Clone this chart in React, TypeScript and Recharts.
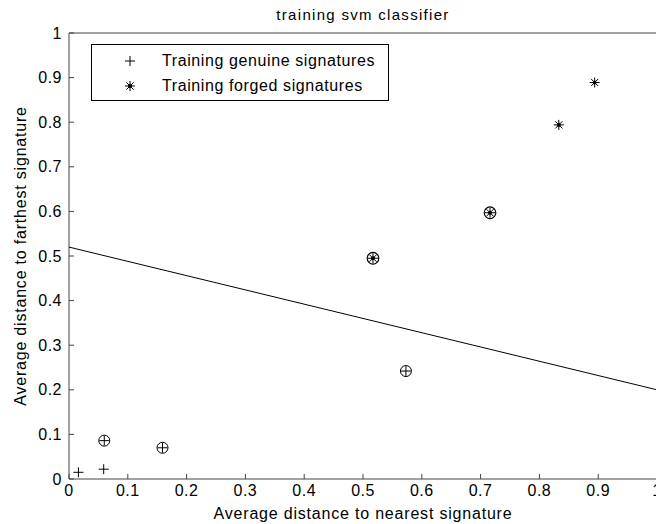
import React from "react";
import { ScatterChart, Scatter, XAxis, YAxis, Label } from "recharts";

const xTicks = [0, 0.1, 0.2, 0.3, 0.4, 0.5, 0.6, 0.7, 0.8, 0.9, 1];
const yTicks = [0, 0.1, 0.2, 0.3, 0.4, 0.5, 0.6, 0.7, 0.8, 0.9, 1];

// training points; *SV = support vectors (circled)
const genuine = [
  { x: 0.016, y: 0.015 },
  { x: 0.059, y: 0.022 },
];
const genuineSV = [
  { x: 0.06, y: 0.086 },
  { x: 0.159, y: 0.07 },
  { x: 0.573, y: 0.242 },
];
const forged = [
  { x: 0.833, y: 0.794 },
  { x: 0.894, y: 0.889 },
];
const forgedSV = [
  { x: 0.517, y: 0.495 },
  { x: 0.716, y: 0.597 },
];
const boundary = [
  { x: 0, y: 0.52 },
  { x: 1, y: 0.2 },
];

const FONT = "'Liberation Sans', Arial, sans-serif";
const AXIS = "#444";

function Plus({ cx, cy, r = 5 }: { cx: number; cy: number; r?: number }) {
  return (
    <g stroke="#000" strokeWidth={1}>
      <line x1={cx - r} y1={cy} x2={cx + r} y2={cy} />
      <line x1={cx} y1={cy - r} x2={cx} y2={cy + r} />
    </g>
  );
}

function Star({ cx, cy, r = 5 }: { cx: number; cy: number; r?: number }) {
  const d = r * 0.72;
  return (
    <g stroke="#000" strokeWidth={1}>
      <line x1={cx - r} y1={cy} x2={cx + r} y2={cy} />
      <line x1={cx} y1={cy - r} x2={cx} y2={cy + r} />
      <line x1={cx - d} y1={cy - d} x2={cx + d} y2={cy + d} />
      <line x1={cx - d} y1={cy + d} x2={cx + d} y2={cy - d} />
      <circle cx={cx} cy={cy} r={1.5} fill="#000" />
    </g>
  );
}

const plusShape = (p: any) => <Plus cx={p.cx} cy={p.cy} />;
const starShape = (p: any) => <Star cx={p.cx} cy={p.cy} />;
const circledPlus = (p: any) => (
  <g>
    <circle cx={p.cx} cy={p.cy} r={5.5} fill="none" stroke="#000" strokeWidth={1} />
    <Plus cx={p.cx} cy={p.cy} r={5} />
  </g>
);
const circledStar = (p: any) => (
  <g>
    <circle cx={p.cx} cy={p.cy} r={5.8} fill="none" stroke="#000" strokeWidth={1.2} />
    <Star cx={p.cx} cy={p.cy} r={5} />
  </g>
);

const tickStyle = { fontSize: 16, fill: "#000", fontFamily: FONT, letterSpacing: 0.5 };

export default function App() {
  return (
    <div
      style={{
        position: "absolute",
        left: 0,
        top: 0,
        width: 656,
        height: 524,
        overflow: "hidden",
        background: "#fff",
        fontFamily: FONT,
      }}
    >
      <ScatterChart width={660} height={524} margin={{ top: 0, right: 0, bottom: 0, left: 0 }}>
        <XAxis
          xAxisId="b"
          dataKey="x"
          type="number"
          domain={[0, 1]}
          ticks={xTicks}
          tickFormatter={(v) => String(v)}
          height={45}
          tickSize={-5}
          tickMargin={11}
          stroke={AXIS}
          tick={tickStyle}
          interval={0}
        >
          <Label
            value="Average distance to nearest signature"
            position="insideBottom"
            offset={5}
            style={{ fontSize: 16, fill: "#000", fontFamily: FONT, letterSpacing: 0.8 }}
          />
        </XAxis>
        <XAxis
          xAxisId="t"
          orientation="top"
          type="number"
          domain={[0, 1]}
          ticks={xTicks}
          height={33}
          tickSize={-5}
          tick={false}
          stroke={AXIS}
        >
          <Label
            content={() => (
              <text
                x={363}
                y={20}
                textAnchor="middle"
                style={{ fontSize: 15, fill: "#000", fontFamily: FONT, letterSpacing: 1.3 }}
              >
                training svm classifier
              </text>
            )}
          />
        </XAxis>
        <YAxis
          yAxisId="l"
          dataKey="y"
          type="number"
          domain={[0, 1]}
          ticks={yTicks}
          tickFormatter={(v) => String(v)}
          width={69}
          tickSize={-5}
          tickMargin={12}
          stroke={AXIS}
          tick={tickStyle}
          interval={0}
        >
          <Label
            content={() => (
              <text
                x={20}
                y={256}
                textAnchor="middle"
                dominantBaseline="central"
                transform="rotate(-90 20 256)"
                style={{ fontSize: 16, fill: "#000", fontFamily: FONT, letterSpacing: 0.8 }}
              >
                Average distance to farthest signature
              </text>
            )}
          />
        </YAxis>
        <YAxis
          yAxisId="r"
          orientation="right"
          type="number"
          domain={[0, 1]}
          ticks={yTicks}
          width={3}
          tickSize={-5}
          tick={false}
          stroke={AXIS}
        />
        <Scatter
          xAxisId="b"
          yAxisId="l"
          data={boundary}
          line={{ stroke: "#000", strokeWidth: 1 }}
          shape={() => <g />}
          isAnimationActive={false}
        />
        <Scatter xAxisId="b" yAxisId="l" data={genuine} shape={plusShape} isAnimationActive={false} />
        <Scatter xAxisId="b" yAxisId="l" data={genuineSV} shape={circledPlus} isAnimationActive={false} />
        <Scatter xAxisId="b" yAxisId="l" data={forged} shape={starShape} isAnimationActive={false} />
        <Scatter xAxisId="b" yAxisId="l" data={forgedSV} shape={circledStar} isAnimationActive={false} />
      </ScatterChart>

      <div
        style={{
          position: "absolute",
          left: 91,
          top: 44,
          width: 298,
          height: 57,
          border: "1px solid #000",
          background: "#fff",
          boxSizing: "border-box",
        }}
      >
        {[
          { label: "Training genuine signatures", Mark: Plus, cy: 16 },
          { label: "Training forged signatures", Mark: Star, cy: 41 },
        ].map(({ label, Mark, cy }) => (
          <div key={label}>
            <svg
              width={20}
              height={20}
              style={{ position: "absolute", left: 28, top: cy - 10 }}
            >
              <Mark cx={10} cy={10} r={5} />
            </svg>
            <span
              style={{
                position: "absolute",
                left: 70,
                top: cy - 10,
                lineHeight: "20px",
                fontSize: 16,
                letterSpacing: 0.6,
                whiteSpace: "nowrap",
                color: "#000",
              }}
            >
              {label}
            </span>
          </div>
        ))}
      </div>
    </div>
  );
}
